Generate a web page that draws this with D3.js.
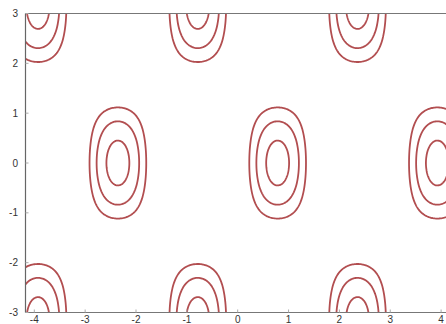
<!DOCTYPE html>
<html>
<head>
<meta charset="utf-8">
<script src="https://cdn.jsdelivr.net/npm/d3@7"></script>
<style>
  html, body { margin: 0; padding: 0; background: #fff; }
  svg { display: block; }
  text { font-family: "Liberation Sans", Arial, sans-serif; font-size: 10px; fill: #333; }
</style>
</head>
<body>
<svg id="chart" width="446" height="324"></svg>
<script>
// Contour levels of z = sin(2x)·cos(y)
const levels = [0.44, 0.67, 0.9];
const xTicks = [-4, -3, -2, -1, 0, 1, 2, 3, 4];
const yTicks = [-3, -2, -1, 0, 1, 2, 3];
const xDomain = [-4, 4];
const yDomain = [-3, 3];

function surface(x, y) {
  return Math.sin(2 * x) * Math.cos(y);
}

const svg = d3.select("#chart");
const plotLeft = 25.5, plotTop = 13.5, plotRight = 452, plotBottom = 312.5;

const x = d3.scaleLinear().domain(xDomain).range([34.3, 441.1]);
const y = d3.scaleLinear().domain(yDomain).range([plotBottom, plotTop]);

// sample grid, a bit wider than the visible window
const step = 0.02;
const gx0 = -5.2, gx1 = 5.2, gy0 = -4.8, gy1 = 4.8;
const nx = Math.round((gx1 - gx0) / step) + 1;
const ny = Math.round((gy1 - gy0) / step) + 1;
const values = new Float64Array(nx * ny);
for (let j = 0; j < ny; j++) {
  const yy = gy0 + j * step;
  for (let i = 0; i < nx; i++) {
    values[j * nx + i] = surface(gx0 + i * step, yy);
  }
}
const contours = d3.contours().size([nx, ny]).thresholds(levels)(values);

svg.append("defs").append("clipPath").attr("id", "plot-clip")
  .append("rect").attr("x", plotLeft).attr("y", plotTop)
  .attr("width", plotRight - plotLeft).attr("height", plotBottom - plotTop);

const line = d3.line()
  .x(p => x(gx0 + (p[0] - 0.5) * step))
  .y(p => y(gy0 + (p[1] - 0.5) * step))
  .curve(d3.curveLinearClosed);

const g = svg.append("g").attr("clip-path", "url(#plot-clip)");
contours.forEach(c => {
  c.coordinates.forEach(poly => {
    poly.forEach(ring => {
      g.append("path")
        .attr("d", line(ring.slice(0, -1)))
        .attr("fill", "none")
        .attr("stroke", "#b24e50")
        .attr("stroke-width", 1.8)
        .attr("stroke-linejoin", "round");
    });
  });
});

// frame
svg.append("line").attr("x1", plotLeft).attr("x2", 446).attr("y1", plotTop).attr("y2", plotTop)
  .attr("stroke", "#777").attr("stroke-width", 1.2);
svg.append("line").attr("x1", plotLeft).attr("x2", 446).attr("y1", plotBottom).attr("y2", plotBottom)
  .attr("stroke", "#777").attr("stroke-width", 1.2);
svg.append("line").attr("x1", plotLeft).attr("x2", plotLeft).attr("y1", plotTop).attr("y2", plotBottom)
  .attr("stroke", "#666").attr("stroke-width", 1.2);

// ticks and labels
svg.selectAll(".xt").data(xTicks).enter().append("line")
  .attr("x1", d => x(d)).attr("x2", d => x(d))
  .attr("y1", plotBottom).attr("y2", plotBottom - 3)
  .attr("stroke", "#aaa");
svg.selectAll(".xl").data(xTicks).enter().append("text")
  .attr("x", d => x(d)).attr("y", 323)
  .attr("text-anchor", "middle")
  .text(d => d);

svg.selectAll(".yt").data(yTicks).enter().append("line")
  .attr("x1", plotLeft).attr("x2", plotLeft + 3)
  .attr("y1", d => y(d)).attr("y2", d => y(d))
  .attr("stroke", "#aaa");
svg.selectAll(".yl").data(yTicks).enter().append("text")
  .attr("x", 18).attr("y", d => y(d) + 3.5)
  .attr("text-anchor", "end")
  .text(d => d);
</script>
</body>
</html>
